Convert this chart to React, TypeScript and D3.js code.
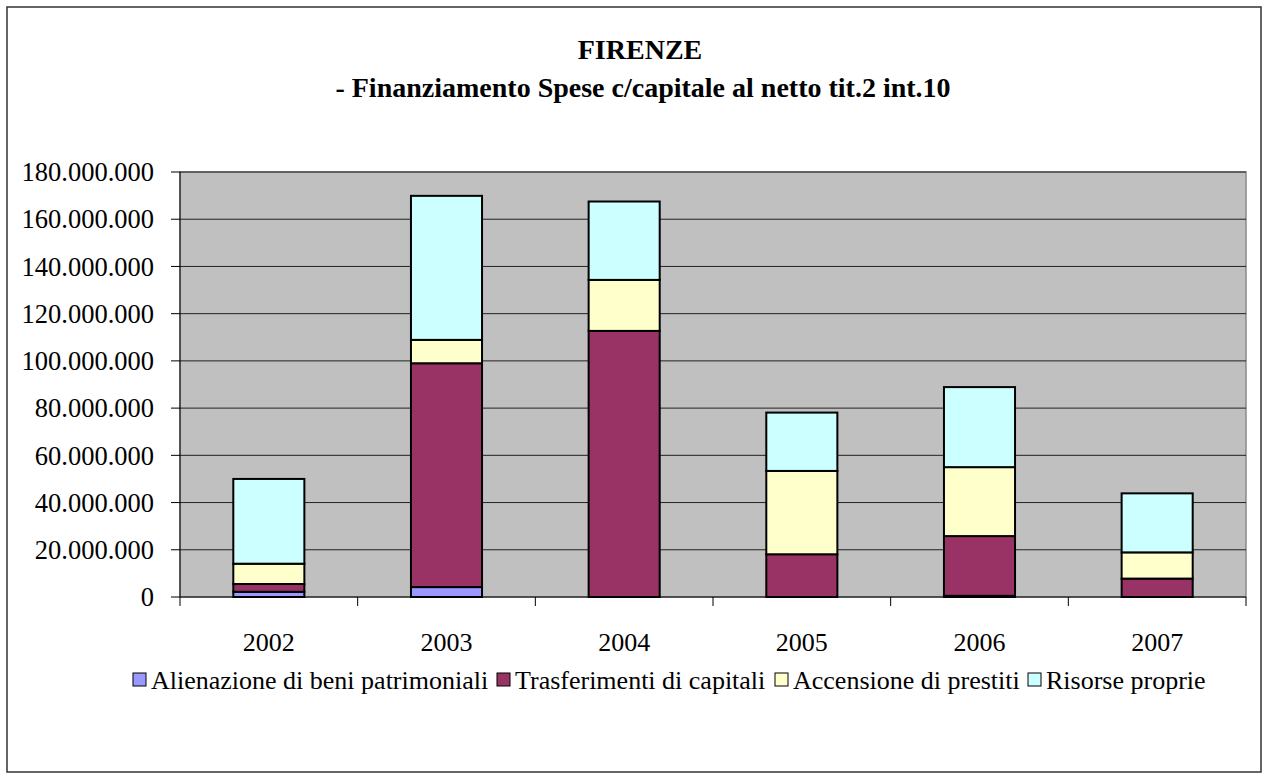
import React from "react";
import * as d3 from "d3";

const years = ["2002", "2003", "2004", "2005", "2006", "2007"];
const seriesNames = [
  "Alienazione di beni patrimoniali",
  "Trasferimenti di capitali",
  "Accensione di prestiti",
  "Risorse proprie",
];
const alienazione = [2200000, 4200000, 0, 0, 500000, 0];
const trasferimenti = [3300000, 94800000, 112700000, 18100000, 25300000, 7800000];
const accensione = [8600000, 9900000, 21600000, 35300000, 29200000, 11100000];
const risorse = [35900000, 61000000, 33200000, 24700000, 33900000, 25000000];
const yTicks = [0, 20000000, 40000000, 60000000, 80000000, 100000000, 120000000, 140000000, 160000000, 180000000];
const colors = ["#9999FF", "#993366", "#FFFFCC", "#CCFFFF"];

const FONT = "'Liberation Serif', 'Times New Roman', serif";

export default function App() {
  const W = 1269, H = 778;
  const left = 180, right = 1246, top = 172, bottom = 597;
  const x = d3.scaleBand<string>().domain(years).range([left, right]).paddingInner(0.6).paddingOuter(0.3);
  const y = d3.scaleLinear().domain([0, 180000000]).range([bottom, top]);
  const step = (right - left) / years.length;
  const fmt = d3.formatLocale({ decimal: ",", thousands: ".", grouping: [3], currency: ["", ""] }).format(",d");

  const rows = years.map((yr, i) => ({
    year: yr,
    s0: alienazione[i],
    s1: trasferimenti[i],
    s2: accensione[i],
    s3: risorse[i],
  }));
  const stack = d3.stack<any>().keys(["s0", "s1", "s2", "s3"]);
  const layers = stack(rows);

  const legendItems = [
    { sq: 133, tx: 151 },
    { sq: 497, tx: 515 },
    { sq: 775, tx: 793 },
    { sq: 1028, tx: 1046 },
  ];

  return (
    <svg width={W} height={H} style={{ position: "absolute", left: 0, top: 0, display: "block" }} fontFamily={FONT}>
      <rect x={0} y={0} width={W} height={H} fill="#ffffff" />
      <rect x={7} y={7} width={1254} height={765} fill="#ffffff" stroke="#333" strokeWidth={1.5} />
      <text x={640} y={59} textAnchor="middle" fontSize={28} fontWeight="bold">FIRENZE</text>
      <text x={643} y={97} textAnchor="middle" fontSize={28} fontWeight="bold">- Finanziamento Spese c/capitale al netto tit.2 int.10</text>

      <rect x={left} y={top} width={right - left} height={bottom - top} fill="#C0C0C0" stroke="#8a8a8a" strokeWidth={1.5} />
      {yTicks.filter((t) => t > 0).map((t) => (
        <line key={"g" + t} x1={left} x2={right} y1={y(t)} y2={y(t)} stroke="#222" strokeWidth={1} />
      ))}
      {yTicks.map((t) => (
        <g key={"t" + t}>
          <line x1={left - 9} x2={left} y1={y(t)} y2={y(t)} stroke="#000" strokeWidth={1} />
          <text x={154} y={y(t)} dy="0.35em" textAnchor="end" fontSize={26.5}>{fmt(t)}</text>
        </g>
      ))}
      {layers.map((layer, li) =>
        layer.map((d, i) => {
          const h = y(d[0]) - y(d[1]);
          if (h <= 0) return null;
          return (
            <rect key={li + "-" + i} x={x(years[i])!} y={y(d[1])} width={x.bandwidth()} height={h}
              fill={colors[li]} stroke="#000" strokeWidth={2} />
          );
        })
      )}
      <line x1={left} x2={left} y1={top} y2={bottom} stroke="#000" strokeWidth={1} />
      <line x1={left} x2={right} y1={bottom} y2={bottom} stroke="#000" strokeWidth={1} />
      {d3.range(years.length + 1).map((i) => (
        <line key={"xt" + i} x1={left + i * step} x2={left + i * step} y1={bottom} y2={bottom + 9} stroke="#000" strokeWidth={1} />
      ))}
      {years.map((yr) => (
        <text key={yr} x={x(yr)! + x.bandwidth() / 2} y={651} textAnchor="middle" fontSize={26}>{yr}</text>
      ))}

      {seriesNames.map((n, i) => (
        <g key={n}>
          <rect x={legendItems[i].sq} y={673} width={13} height={13} fill={colors[i]} stroke="#000" strokeWidth={1} />
          <text x={legendItems[i].tx} y={689} fontSize={26}>{n}</text>
        </g>
      ))}
    </svg>
  );
}
